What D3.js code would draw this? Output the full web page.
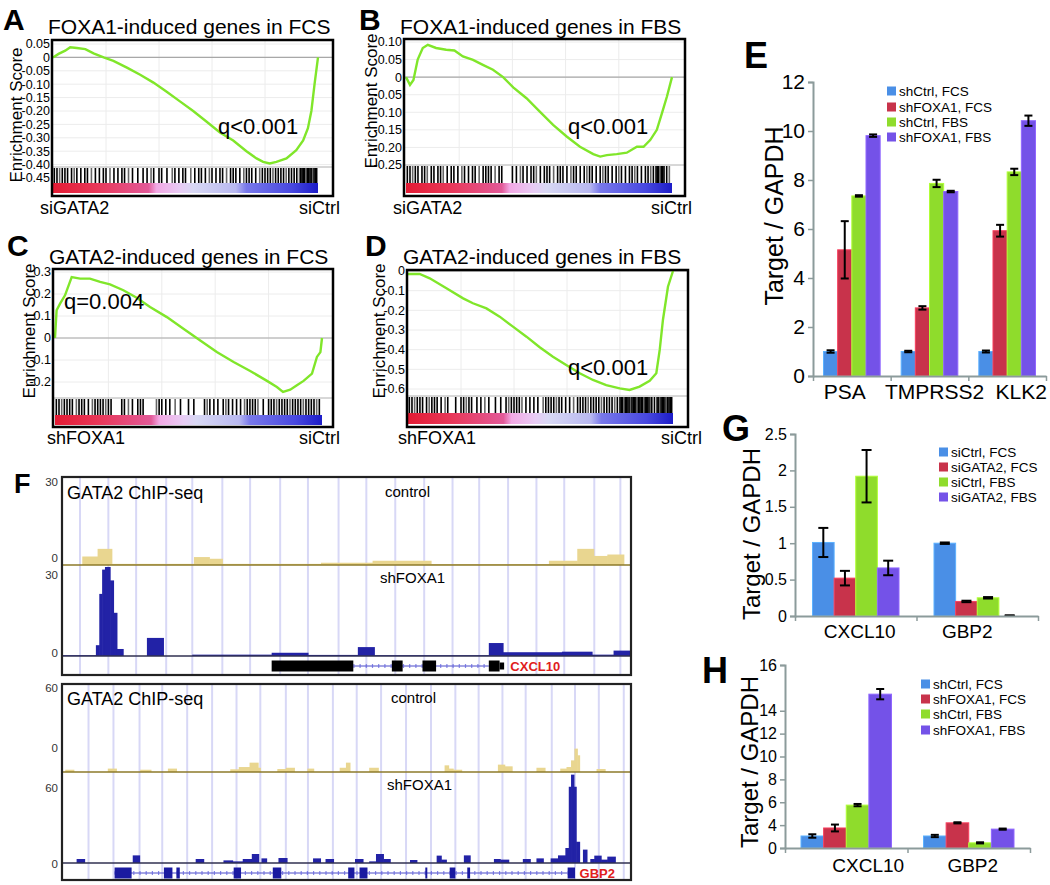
<!DOCTYPE html>
<html>
<head>
<meta charset="utf-8">
<script src="https://d3js.org/d3.v7.min.js"></script>
<style>
  body { margin: 0; background: #fff; }
  svg { display: block; font-family: "Liberation Sans", Arial, sans-serif; }
</style>
</head>
<body>
<svg id="fig"></svg>
<script>
// ---------- GSEA running scores (rank position in %, enrichment score) ----------
const rankA  = [0,2.1,4.6,6.5,9,12.2,15.3,19.1,22.8,27.9,32.9,37.9,42.9,47.9,52.9,58,63,68,73,76.8,79.3,81.8,84.3,88.1,91.8,94.4,96.2,97.5,98.7,100];
const scoreA = [0,0.013,0.025,0.038,0.035,0.031,0.015,0,-0.013,-0.038,-0.065,-0.094,-0.128,-0.164,-0.2,-0.24,-0.28,-0.31,-0.35,-0.377,-0.39,-0.396,-0.39,-0.377,-0.346,-0.31,-0.264,-0.2,-0.1,0];
const rankB  = [0,1.5,2.8,4.4,6.3,8.2,11.3,15.1,18.2,21.4,25.2,28.9,32.7,36.5,40.3,45.3,50.3,55.3,60.4,65.4,70.4,73,75.5,79.2,83,86.8,89.3,91.8,94.3,96.2,98.1,100];
const scoreB = [0,-0.022,-0.008,0.05,0.083,0.092,0.083,0.078,0.076,0.059,0.049,0.035,0.021,0,-0.029,-0.06,-0.098,-0.136,-0.169,-0.198,-0.219,-0.226,-0.222,-0.219,-0.215,-0.198,-0.198,-0.179,-0.15,-0.103,-0.055,0];
const rankC  = [0,0.6,1.9,3.75,6.25,9.4,13.1,16.9,20.6,25.6,30.6,35.6,41.9,48.1,54.4,60.6,66.9,73.1,79.4,83.1,85.4,88.1,90.6,93.1,96.25,98.1,99.4,100];
const scoreC = [0,0.126,0.156,0.194,0.277,0.27,0.27,0.255,0.244,0.217,0.183,0.141,0.095,0.042,-0.011,-0.064,-0.109,-0.15,-0.195,-0.223,-0.245,-0.235,-0.215,-0.195,-0.162,-0.086,-0.064,0];
const rankD  = [0,4.4,8.2,14.5,20.8,24.5,29.6,34.6,39.6,44.7,49.7,54.7,59.7,64.8,69.8,74.8,79.9,83.6,87.4,91.2,93.7,95,96.2,98.1,100];
const scoreD = [-0.015,-0.015,-0.037,-0.088,-0.139,-0.164,-0.19,-0.232,-0.283,-0.334,-0.388,-0.436,-0.478,-0.52,-0.554,-0.58,-0.597,-0.605,-0.588,-0.558,-0.52,-0.4,-0.249,-0.08,0];

// gene set hits (rank position in %)
const hitsA = [0.5,1.5,2.5,3.5,4.5,5.5,7,8,9,10.5,12,13,14.5,16,17.5,19,20,21.5,23,24.5,26,27,28.5,30,32,34,35.5,37,38,40,41,43,45,46,47.5,49,50,52,53.5,55,56,57.5,59,60,61.5,63,64,65.5,67,68,69,70.5,72,73,74,75,76.5,78,79,80,81,82,83,84,85,86,87,88,89,90,91,92,93,93.5,94,94.5,95,95.5,96,96.5,97,97.5,98,98.5,99,99.5];
const hitsB = [0.5,1.5,2.5,3.5,4.5,6,7,8,9.5,10.5,12,13,14,15.5,17,18,19.5,21,22,23.5,25,26,27.5,29,30,31,32,33.5,35,36,40,41.5,43,44,45.5,47,48,49,50.5,52,53,54,55.5,57,58,59,60.5,62,63,64,65.5,67,68,69,70,71.5,73,74,75,76,77.5,79,80,81,82.5,84,85,86,87,88.5,90,91,92,93,94,94.5,95,95.5,96,96.5,97,98,99];
const hitsC = [0.5,1.5,2.5,3.5,4.5,5.5,6.5,8,9,10,11,12.5,14,15,16,17,18,19,20,21,25,26,27.5,29,31,32,33,38,39,40,41.5,43,45,47,50,52,56,57,58,59.5,61,63,64,65,66.5,68,69.5,71,72,73,74,75,76,78,80,81,82,83,84,85,86,87,88,89,90,91,92,93,94,95,96,97,98,99];
const hitsD = [0.5,1.5,2.5,3.5,4.5,5.5,7,8,9,10,11,12.5,14,15,18,20,21,22,23,24,26,27.5,29,30.5,33,35,37,38,39,40,41,42,43,44.5,46,47.5,49,51,52,53,54,55,56,57,58,59.5,61,62.5,64,65,66,67,68,69,70,71,72,73,74,75,76,77,78,79,80,80.5,81,81.5,82,82.5,83,83.5,84,84.5,85,85.5,86,86.5,87,87.5,88,88.5,89,89.5,90,90.5,91,91.5,92,93,94,94.5,95,95.5,96,96.5,97,97.5,98,98.5,99,99.5];

const ticksA  = [0.05,0,-0.05,-0.10,-0.15,-0.20,-0.25,-0.30,-0.35,-0.40,-0.45];
const labelsA = ["0.05","0","-0.05","-0.10","-0.15","-0.20","-0.25","-0.30","-0.35","-0.40","-0.45"];
const ticksB  = [0.10,0.05,0,-0.05,-0.10,-0.15,-0.20,-0.25];
const labelsB = ["0.10","0.05","0","-0.05","-0.10","-0.15","-0.20","-0.25"];
const ticksC  = [0.3,0.2,0.1,0,-0.1,-0.2];
const labelsC = ["0.3","0.2","0.1","0","-0.1","-0.2"];
const ticksD  = [0,-0.1,-0.2,-0.3,-0.4,-0.5,-0.6];
const labelsD = ["0","-0.1","-0.2","-0.3","-0.4","-0.5","-0.6"];

// ---------- qPCR bars ----------
const eCats = ["PSA", "TMPRSS2", "KLK2"];
const eSeries = ["shCtrl, FCS", "shFOXA1, FCS", "shCtrl, FBS", "shFOXA1, FBS"];
const eShCtrlFCS  = [1.0, 1.0, 1.0];
const eShFOXA1FCS = [5.15, 2.78, 5.93];
const eShCtrlFBS  = [7.35, 7.86, 8.33];
const eShFOXA1FBS = [9.81, 7.53, 10.42];
const eErr = [[0.05,0.03,0.04],[1.17,0.07,0.24],[0.03,0.15,0.13],[0.05,0.03,0.21]];
const eTicks = [0,2,4,6,8,10,12];

const gCats = ["CXCL10", "GBP2"];
const gSeries = ["siCtrl, FCS", "siGATA2, FCS", "siCtrl, FBS", "siGATA2, FBS"];
const gSiCtrlFCS  = [1.01, 1.0];
const gSiGATA2FCS = [0.52, 0.2];
const gSiCtrlFBS  = [1.92, 0.25];
const gSiGATA2FBS = [0.66, 0.0];
const gErr = [[0.2,0.01],[0.1,0.01],[0.36,0.01],[0.1,0.01]];
const gTicks = [0,0.5,1,1.5,2,2.5];
const gTickLabels = ["0","0.5","1","1.5","2","2.5"];

const hCats = ["CXCL10", "GBP2"];
const hSeries = ["shCtrl, FCS", "shFOXA1, FCS", "shCtrl, FBS", "shFOXA1, FBS"];
const hShCtrlFCS  = [1.05, 1.05];
const hShFOXA1FCS = [1.75, 2.2];
const hShCtrlFBS  = [3.75, 0.45];
const hShFOXA1FBS = [13.45, 1.65];
const hErr = [[0.15,0.1],[0.3,0.05],[0.1,0.05],[0.45,0.05]];
const hTicks = [0,2,4,6,8,10,12,16];
const hTickLabels = ["0","4","6","8","10","12","14","16"];

const barColors = ["#4a8fe6", "#c8334b", "#8fdc2c", "#7452e8"];

// ---------- ChIP-seq tracks (position in % of window, [start, end, value]) ----------
const f1Grid = [3,8,12.9,18.2,22.8,28.1,33,38.3,43.2,48.6,53.5,58.6,63.7,68.7,73.4,78.5,83.5,88.4,93.7,98.3];
const f1Control = [[3.4,6.1,3],[6.1,8.6,5.7],[8.6,23.1,0.4],[23.1,25.8,2.8],[25.8,28.1,2.2],[28.1,45.5,0.4],[45.5,54.6,0.8],[54.6,64.9,1.5],[64.9,85.7,0.3],[85.7,90.7,1.5],[90.7,93.6,5.7],[93.6,96,3.2],[96,98.9,3.7]];
const f1ShFOXA1 = [[0,5.8,0.3],[5.8,6.4,4],[6.4,6.9,23],[6.9,7.4,32],[7.4,8.3,34],[8.3,8.9,28],[8.9,9.5,16],[9.5,10.6,2.6],[14.8,17.7,6.7],[22.8,36.8,0.5],[36.8,43.2,1.2],[43.2,52,0.4],[52,54.9,3.3],[54.9,75.1,0.3],[75.1,77.6,4.8],[77.6,88,1.4],[88,93.3,1.6],[93.3,97.1,0.5],[97.1,100,2]];
const cxcl10Exons = [[36.8,51.2],[58,59.9],[63.4,65.8],[75.1,77]];
const cxcl10Utr = [[77,77.8]];
const cxcl10Intron = [51.2, 75.1];

const f2Grid = [4.5,8.9,13.5,17.5,21.9,26.3,30.6,34.8,39.3,43.2,47.6,51.8,56.1,60.5,64.9,69.2,73.3,77.5,81.6,86.2,90.3,94.5,98.9];
const f2Control = [[0.4,1.9,1.6],[7.9,9.4,2.4],[13.6,15.5,1.6],[18.5,20,2.4],[29.5,31,1.9],[31,32.9,3.5],[32.9,34.4,6.6],[34.4,34.8,3],[37.8,39.3,2.1],[39.3,40.8,3],[43.1,44.2,2.4],[48.8,49.9,3],[49.9,50.6,6.6],[54,55.6,3],[67.3,68,4.7],[68,68.8,2.4],[68.8,70.3,1.6],[76.7,77.9,5.2],[77.9,79.2,4],[83.5,85,3],[87.7,88.8,2.4],[88.8,89.6,3.5],[89.6,90.2,8.2],[90.2,90.7,16.5],[90.7,91.1,11.8],[94.1,95.6,2.1]];
const f2ShFOXA1 = [[2.4,3.8,3.2],[12.3,13.5,6.1],[23.4,24.8,3.2],[28.3,29.9,2.1],[29.9,31.7,1.3],[31.7,33.3,3.2],[33.3,34.5,7.2],[35,35.9,3.7],[38,39.5,4],[44.1,45.4,3.7],[46.3,47.7,3.2],[51.5,52.9,3.2],[54,55.2,1.3],[55.2,56.5,7.2],[56.5,57.7,3.2],[61.2,62.4,2.4],[65.9,66.7,5.9],[66.7,67.6,2.7],[70.7,71.8,6.1],[76,77.1,3.2],[77.1,78.6,2.7],[81.1,82.4,3.2],[83.5,84.7,3.7],[86,87.3,3.7],[87.3,88.6,6.1],[88.6,89.2,12],[89.2,89.6,61],[89.6,90.1,70.7],[90.1,90.5,61],[90.5,91.1,17],[91.7,92.4,10.7],[93,93.7,3.2],[93.7,94.9,5.9],[94.9,96,2.7],[96,97.4,5.1]];
const gbp2Exons = [[9.1,12.1],[17.8,19.3],[20,20.6],[30.1,31.4],[37,38.5],[50.3,51.4],[52.3,53.7],[63.9,64.2],[68.2,69.2],[71.3,71.8],[89,90.3]];
const gbp2Intron = [9.1, 89];

// ---------- drawing ----------
const svg = d3.select("#fig").attr("width", 1050).attr("height", 885);
svg.append("rect").attr("width", 1050).attr("height", 885).attr("fill", "#fff");

const defs = svg.append("defs");
const grad = defs.append("linearGradient").attr("id", "rankGrad");
[[0,"#e31b34"],[0.17,"#e8385a"],[0.36,"#e25a98"],[0.39,"#f2a8e4"],[0.48,"#e8ccf4"],[0.53,"#d8d8f4"],[0.69,"#b8b8f0"],[0.73,"#7878ea"],[0.9,"#4848e0"],[1,"#1c1cc8"]]
  .forEach(s => grad.append("stop").attr("offset", s[0]).attr("stop-color", s[1]));

const gseaGridPct = [20, 40, 60, 80];
const narrow = "'Liberation Sans Narrow', 'Arial Narrow', sans-serif";

function gseaPanel(p) {
  const g = svg.append("g");
  const x = d3.scaleLinear().domain([0, 100]).range([p.dx0, p.dx1]);
  const y = d3.scaleLinear().domain([p.ticks[0], p.ticks[p.ticks.length - 1]]).range([p.yTop, p.yBot]);

  g.selectAll(".hg").data(p.ticks.filter(t => y(t) < p.hitsTop - 1)).join("line")
    .attr("x1", p.fx0).attr("x2", p.fx1).attr("y1", d => y(d)).attr("y2", d => y(d))
    .attr("stroke", "#ececec").attr("stroke-width", 1);
  g.selectAll(".vg").data(gseaGridPct).join("line")
    .attr("x1", d => x(d)).attr("x2", d => x(d)).attr("y1", p.fy0).attr("y2", p.hitsTop)
    .attr("stroke", "#ececec").attr("stroke-width", 1);
  g.append("line").attr("x1", p.fx0).attr("x2", p.fx1).attr("y1", y(0)).attr("y2", y(0))
    .attr("stroke", "#a8a8a8").attr("stroke-width", 1.2);

  g.append("path").datum(d3.zip(p.rank, p.score))
    .attr("d", d3.line().x(d => x(d[0])).y(d => y(d[1])))
    .attr("fill", "none").attr("stroke", "#80e62a").attr("stroke-width", 2.4);

  g.append("rect").attr("x", p.fx0).attr("y", p.hitsTop).attr("width", p.fx1 - p.fx0)
    .attr("height", p.fy1 - p.hitsTop).attr("fill", "#fff");
  g.append("line").attr("x1", p.fx0).attr("x2", p.fx1).attr("y1", p.hitsTop).attr("y2", p.hitsTop)
    .attr("stroke", "#b0b0b0").attr("stroke-width", 1);
  g.selectAll(".hit").data(p.hits).join("line")
    .attr("x1", d => x(d)).attr("x2", d => x(d)).attr("y1", p.hitsTop + 1).attr("y2", p.barTop)
    .attr("stroke", (d, i) => i % 5 === 2 ? "#666" : "#000").attr("stroke-width", 1.6);
  g.append("rect").attr("x", x(0)).attr("y", p.barTop).attr("width", x(100) - x(0))
    .attr("height", p.barBot - p.barTop).attr("fill", "url(#rankGrad)");

  g.append("rect").attr("x", p.fx0).attr("y", p.fy0).attr("width", p.fx1 - p.fx0)
    .attr("height", p.fy1 - p.fy0).attr("fill", "none").attr("stroke", "#000").attr("stroke-width", 2.5);

  g.selectAll(".tl").data(p.ticks).join("text")
    .attr("x", p.fx0 - 2).attr("y", d => y(d)).attr("dy", "0.35em")
    .attr("text-anchor", "end").attr("font-size", p.tickFont).attr("font-family", narrow)
    .text((d, i) => p.labels[i]);

  g.append("text").attr("transform", `translate(${p.esX},${p.esY}) rotate(-90)`)
    .attr("text-anchor", "middle").attr("font-size", 17).text("Enrichment Score");
  g.append("text").attr("x", p.fx0 - 4).attr("y", p.titleY).attr("font-size", 21).text(p.title);
  g.append("text").attr("x", p.letterX).attr("y", p.letterY).attr("font-size", 30)
    .attr("font-weight", "bold").text(p.letter);
  g.append("text").attr("x", p.qX).attr("y", p.qY).attr("font-size", 22).text(p.q);
  g.append("text").attr("x", p.leftLabX).attr("y", p.labY).attr("font-size", 18).text(p.leftLab);
  g.append("text").attr("x", p.rightLabX).attr("y", p.labY).attr("text-anchor", "end")
    .attr("font-size", 18).text("siCtrl");
}

gseaPanel({ letter: "A", letterX: 3, letterY: 30, title: "FOXA1-induced genes in FCS", titleY: 34,
  fx0: 52, fx1: 333, fy0: 40, fy1: 196, dx0: 53, dx1: 318,
  ticks: ticksA, labels: labelsA, yTop: 44, yBot: 178, tickFont: 12.5,
  hitsTop: 167, barTop: 183, barBot: 193, rank: rankA, score: scoreA, hits: hitsA,
  esX: 22, esY: 115, q: "q<0.001", qX: 218, qY: 134, leftLab: "siGATA2", leftLabX: 40, rightLabX: 340, labY: 214 });

gseaPanel({ letter: "B", letterX: 359, letterY: 30, title: "FOXA1-induced genes in FBS", titleY: 34,
  fx0: 404, fx1: 685, fy0: 39, fy1: 196, dx0: 406, dx1: 672,
  ticks: ticksB, labels: labelsB, yTop: 42, yBot: 165, tickFont: 12.5,
  hitsTop: 165, barTop: 183, barBot: 193, rank: rankB, score: scoreB, hits: hitsB,
  esX: 377, esY: 101, q: "q<0.001", qX: 568, qY: 134, leftLab: "siGATA2", leftLabX: 393, rightLabX: 692, labY: 214 });

gseaPanel({ letter: "C", letterX: 7, letterY: 256, title: "GATA2-induced genes in FCS", titleY: 264,
  fx0: 53, fx1: 333, fy0: 269, fy1: 427, dx0: 55, dx1: 322,
  ticks: ticksC, labels: labelsC, yTop: 272, yBot: 382, tickFont: 12.5,
  hitsTop: 398, barTop: 415, barBot: 425, rank: rankC, score: scoreC, hits: hitsC,
  esX: 35, esY: 331, q: "q=0.004", qX: 64, qY: 309, leftLab: "shFOXA1", leftLabX: 47, rightLabX: 340, labY: 444 });

gseaPanel({ letter: "D", letterX: 365, letterY: 256, title: "GATA2-induced genes in FBS", titleY: 264,
  fx0: 407, fx1: 688, fy0: 270, fy1: 427, dx0: 408, dx1: 673,
  ticks: ticksD, labels: labelsD, yTop: 271, yBot: 389, tickFont: 12.5,
  hitsTop: 396, barTop: 413, barBot: 424, rank: rankD, score: scoreD, hits: hitsD,
  esX: 385, esY: 331, q: "q<0.001", qX: 568, qY: 375, leftLab: "shFOXA1", leftLabX: 398, rightLabX: 702, labY: 444 });

// ---------- bar panels ----------
const axisGray = "#8c9b9b";

function barPanel(o) {
  const g = svg.append("g");
  const x0 = d3.scaleBand().domain(o.cats).range([o.axisX, o.xEnd]);
  const x1 = d3.scaleBand().domain(o.series).range([o.pad, x0.bandwidth() - o.pad]);
  const y = d3.scaleLinear().domain([0, o.yMax]).range([o.y0, o.yTop]);

  const rows = o.cats.flatMap((c, i) => o.series.map((s, k) => ({ c, s, k, v: o.values[k][i], e: o.errs[k][i] })));

  g.selectAll(".bar").data(rows).join("rect")
    .attr("x", d => x0(d.c) + x1(d.s)).attr("y", d => y(d.v))
    .attr("width", x1.bandwidth()).attr("height", d => y(0) - y(d.v))
    .attr("fill", d => barColors[d.k])
    .attr("stroke", d => d3.color(barColors[d.k]).brighter(0.6)).attr("stroke-width", 1);

  const eb = g.selectAll(".err").data(rows).join("g")
    .attr("transform", d => `translate(${x0(d.c) + x1(d.s) + x1.bandwidth() / 2},0)`);
  eb.append("line").attr("y1", d => y(d.v + d.e)).attr("y2", d => y(Math.max(0, d.v - d.e)))
    .attr("stroke", "#000").attr("stroke-width", 2);
  eb.append("line").attr("x1", -o.cap / 2).attr("x2", o.cap / 2)
    .attr("y1", d => y(d.v + d.e)).attr("y2", d => y(d.v + d.e)).attr("stroke", "#000").attr("stroke-width", 2);
  eb.append("line").attr("x1", -o.cap / 2).attr("x2", o.cap / 2)
    .attr("y1", d => y(Math.max(0, d.v - d.e))).attr("y2", d => y(Math.max(0, d.v - d.e)))
    .attr("stroke", "#000").attr("stroke-width", 2);

  const ya = g.append("g").attr("transform", `translate(${o.axisX},0)`)
    .call(d3.axisLeft(y).tickValues(o.ticks).tickFormat((d, i) => o.tickLabels[i]).tickSize(5).tickPadding(3));
  ya.select(".domain").attr("stroke", axisGray).attr("stroke-width", 2);
  ya.selectAll(".tick line").attr("stroke", axisGray).attr("stroke-width", 1.5);
  ya.selectAll(".tick text").attr("font-size", o.tickFont).attr("fill", "#000")
    .attr("font-family", "'Liberation Sans', Arial, sans-serif");

  const bounds = o.cats.map(c => x0(c)).concat([o.xEnd]);
  const xs = d3.scaleLinear().domain([o.axisX, o.xEnd]).range([o.axisX, o.xEnd]);
  const xa = g.append("g").attr("transform", `translate(0,${o.y0})`)
    .call(d3.axisBottom(xs).tickValues(bounds).tickFormat("").tickSize(5).tickSizeOuter(0));
  xa.select(".domain").attr("stroke", axisGray).attr("stroke-width", 2);
  xa.selectAll(".tick line").attr("stroke", axisGray).attr("stroke-width", 1.5);

  g.selectAll(".cat").data(o.cats).join("text")
    .attr("x", (d, i) => x0(d) + x0.bandwidth() / 2 + o.catDx[i]).attr("y", o.catY)
    .attr("text-anchor", "middle").attr("font-size", o.catFont).text(d => d);

  const lg = g.selectAll(".lg").data(o.series).join("g")
    .attr("transform", (d, i) => `translate(${o.legX},${o.legY[i]})`);
  lg.append("rect").attr("x", 0).attr("y", -4.5).attr("width", 9).attr("height", 9).attr("fill", (d, i) => barColors[i]);
  lg.append("text").attr("x", 12).attr("dy", "0.35em").attr("font-size", 13.5).text(d => d);

  g.append("text").attr("transform", `translate(${o.titleX},${o.titleY}) rotate(-90)`)
    .attr("text-anchor", "middle").attr("font-size", o.titleFont).text("Target / GAPDH");
  g.append("text").attr("x", o.letterX).attr("y", o.letterY).attr("font-size", 36)
    .attr("font-weight", "bold").text(o.letter);
}

barPanel({ letter: "E", letterX: 744, letterY: 68, cats: eCats, series: eSeries,
  values: [eShCtrlFCS, eShFOXA1FCS, eShCtrlFBS, eShFOXA1FBS], errs: eErr,
  axisX: 813, xEnd: 1046, y0: 376, yTop: 82, yMax: 12, pad: 10.5, cap: 8,
  ticks: eTicks, tickLabels: eTicks.map(String), tickFont: 21,
  catFont: 21, catY: 399, catDx: [-7, 5, 14],
  legX: 887, legY: [91, 107, 122, 137], titleX: 783, titleY: 216, titleFont: 25 });

barPanel({ letter: "G", letterX: 722, letterY: 441, cats: gCats, series: gSeries,
  values: [gSiCtrlFCS, gSiGATA2FCS, gSiCtrlFBS, gSiGATA2FBS], errs: gErr,
  axisX: 795, xEnd: 1038, y0: 616, yTop: 434, yMax: 2.5, pad: 17.5, cap: 10,
  ticks: gTicks, tickLabels: gTickLabels, tickFont: 16,
  catFont: 19, catY: 638, catDx: [4, -10],
  legX: 939, legY: [452, 467, 482, 497], titleX: 760, titleY: 534, titleFont: 24 });

barPanel({ letter: "H", letterX: 702, letterY: 683, cats: hCats, series: hSeries,
  values: [hShCtrlFCS, hShFOXA1FCS, hShCtrlFBS, hShFOXA1FBS], errs: hErr,
  axisX: 785, xEnd: 1030, y0: 848, yTop: 665, yMax: 16, pad: 16, cap: 8,
  ticks: hTicks, tickLabels: hTickLabels, tickFont: 16,
  catFont: 19, catY: 872, catDx: [22, 4],
  legX: 921, legY: [684, 699, 714, 730], titleX: 758, titleY: 762, titleFont: 24 });

// ---------- ChIP-seq panel ----------
function chipBox(o) {
  const g = svg.append("g");
  const x = d3.scaleLinear().domain([0, 100]).range([o.bx0 + 1, o.bx1 - 1]);
  const yc = d3.scaleLinear().domain([0, o.max]).range([o.cBase, o.cTop]);
  const yb = d3.scaleLinear().domain([0, o.max]).range([o.bBase, o.bTop]);

  g.selectAll(".grid").data(o.grid).join("line")
    .attr("x1", d => x(d)).attr("x2", d => x(d)).attr("y1", o.by0).attr("y2", o.by1)
    .attr("stroke", "#d8d8f6").attr("stroke-width", 2);

  g.selectAll(".cb").data(o.control).join("rect")
    .attr("x", d => x(d[0])).attr("width", d => x(d[1]) - x(d[0]) + 0.6)
    .attr("y", d => yc(d[2])).attr("height", d => o.cBase - yc(d[2])).attr("fill", "#e9d690");
  g.append("line").attr("x1", o.bx0).attr("x2", o.bx1).attr("y1", o.cBase).attr("y2", o.cBase)
    .attr("stroke", "#8c7a2a").attr("stroke-width", 1.5);

  g.selectAll(".bb").data(o.treat).join("rect")
    .attr("x", d => x(d[0])).attr("width", d => x(d[1]) - x(d[0]) + 0.6)
    .attr("y", d => Math.max(o.bClip, yb(d[2]))).attr("height", d => o.bBase - Math.max(o.bClip, yb(d[2])))
    .attr("fill", "#2222a6");
  g.append("line").attr("x1", o.bx0).attr("x2", o.bx1).attr("y1", o.bBase).attr("y2", o.bBase)
    .attr("stroke", "#303050").attr("stroke-width", 1.5);

  // gene model
  g.append("line").attr("x1", x(o.intron[0])).attr("x2", x(o.intron[1]))
    .attr("y1", o.geneY).attr("y2", o.geneY).attr("stroke", "#4a4ac8").attr("stroke-width", 1);
  g.append("line").attr("x1", x(o.intron[0])).attr("x2", x(o.intron[1]))
    .attr("y1", o.geneY).attr("y2", o.geneY).attr("stroke", "#6a6ae0").attr("stroke-width", 4)
    .attr("stroke-dasharray", "1.2,5").attr("opacity", 0.8);
  g.selectAll(".ex").data(o.exons).join("rect")
    .attr("x", d => x(d[0])).attr("width", d => Math.max(2, x(d[1]) - x(d[0])))
    .attr("y", o.geneY - 5.5).attr("height", 11).attr("fill", o.geneColor);
  g.selectAll(".utr").data(o.utr).join("rect")
    .attr("x", d => x(d[0])).attr("width", d => x(d[1]) - x(d[0]))
    .attr("y", o.geneY - 3.5).attr("height", 7).attr("fill", o.geneColor);
  g.append("text").attr("x", x(o.geneLabX)).attr("y", o.geneY).attr("dy", "0.36em")
    .attr("font-size", 13).attr("font-weight", "bold").attr("fill", "#e0201c").text(o.gene);

  g.append("rect").attr("x", o.bx0).attr("y", o.by0).attr("width", o.bx1 - o.bx0).attr("height", o.by1 - o.by0)
    .attr("fill", "none").attr("stroke", "#222").attr("stroke-width", 2.2);

  g.selectAll(".sc").data(o.scale).join("text")
    .attr("x", o.bx0 - 4).attr("y", d => d[1]).attr("dy", "0.35em").attr("text-anchor", "end")
    .attr("font-size", 11.5).attr("font-family", narrow).attr("fill", "#333").text(d => d[0]);

  g.append("text").attr("x", o.bx0 + 5).attr("y", o.titleY).attr("font-size", 18).text("GATA2 ChIP-seq");
  g.append("text").attr("x", o.ctlX).attr("y", o.ctlY).attr("font-size", 15).attr("font-family", narrow).text("control");
  g.append("text").attr("x", o.shX).attr("y", o.shY).attr("font-size", 15).attr("font-family", narrow).text("shFOXA1");
}

chipBox({ bx0: 62, bx1: 631, by0: 477, by1: 675, max: 30, grid: f1Grid,
  cBase: 565, cTop: 480, bBase: 656, bTop: 575, bClip: 567,
  control: f1Control, treat: f1ShFOXA1,
  scale: [["30", 482], ["0", 558], ["30", 575], ["0", 653]],
  exons: cxcl10Exons, utr: cxcl10Utr, intron: cxcl10Intron, geneY: 666, geneColor: "#000",
  gene: "CXCL10", geneLabX: 78.9, titleY: 499, ctlX: 385, ctlY: 497, shX: 380, shY: 583 });

chipBox({ bx0: 62, bx1: 631, by0: 684, by1: 880, max: 60, grid: f2Grid,
  cBase: 772, cTop: 687, bBase: 863, bTop: 788, bClip: 774,
  control: f2Control, treat: f2ShFOXA1,
  scale: [["60", 688], ["0", 748], ["60", 788], ["0", 864]],
  exons: gbp2Exons, utr: [], intron: gbp2Intron, geneY: 873, geneColor: "#1a1aa0",
  gene: "GBP2", geneLabX: 91.1, titleY: 705, ctlX: 391, ctlY: 703, shX: 387, shY: 790 });

svg.append("text").attr("x", 14).attr("y", 493).attr("font-size", 27).attr("font-weight", "bold").text("F");
</script>
</body>
</html>
